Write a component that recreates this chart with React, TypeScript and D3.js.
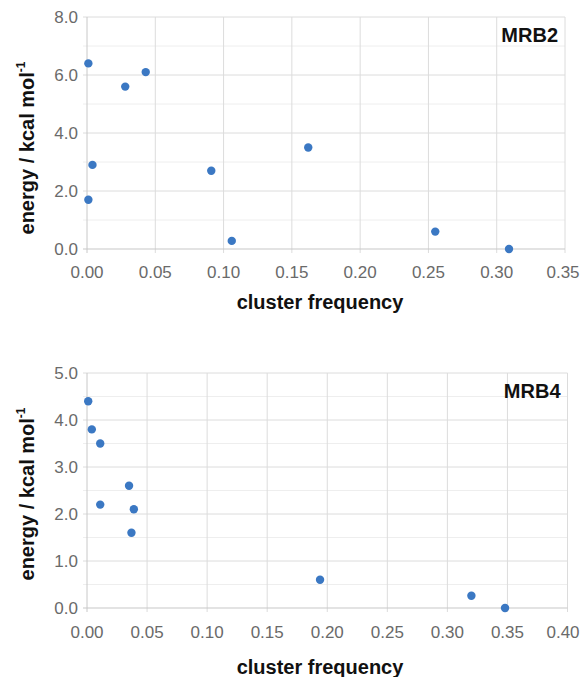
import React, { useEffect, useRef } from 'react';
import * as d3 from 'd3';

// MRB2 clusters
const mrb2Freq = [0.001, 0.028, 0.043, 0.004, 0.001, 0.091, 0.106, 0.162, 0.255, 0.309];
const mrb2Energy = [6.4, 5.6, 6.1, 2.9, 1.7, 2.7, 0.28, 3.5, 0.6, 0.0];
const mrb2XTicks = [0, 0.05, 0.1, 0.15, 0.2, 0.25, 0.3, 0.35];
const mrb2YTicks = [0, 2, 4, 6, 8];
const mrb2YMinor = [1, 3, 5, 7];

// MRB4 clusters
const mrb4Freq = [0.001, 0.004, 0.011, 0.035, 0.011, 0.039, 0.037, 0.194, 0.320, 0.348];
const mrb4Energy = [4.4, 3.8, 3.5, 2.6, 2.2, 2.1, 1.6, 0.6, 0.26, 0.0];
const mrb4XTicks = [0, 0.05, 0.1, 0.15, 0.2, 0.25, 0.3, 0.35, 0.4];
const mrb4YTicks = [0, 1, 2, 3, 4, 5];
const mrb4YMinor = [0.5, 1.5, 2.5, 3.5, 4.5];

const FONT = '"Liberation Sans", Arial, sans-serif';
const DOT = '#3b78c3';
const WIDTH = 581;

const drawPanel = (svg, opts) => {
  const { freq, energy, xTicks, yTicks, yMinor, label, left, right, top, bottom, xTitleY, xTickY, yTitleY } = opts;
  const g = svg.append('g');

  const x = d3.scaleLinear()
    .domain([xTicks[0], xTicks[xTicks.length - 1]])
    .range([left, right]);
  const y = d3.scaleLinear()
    .domain([yTicks[0], yTicks[yTicks.length - 1]])
    .range([bottom, top]);

  // minor grid
  g.selectAll('.minor')
    .data(yMinor)
    .enter()
    .append('line')
    .attr('x1', left - 4).attr('x2', right)
    .attr('y1', d => y(d)).attr('y2', d => y(d))
    .attr('stroke', '#eeeeee').attr('stroke-width', 1);

  // major grid
  g.selectAll('.hgrid')
    .data(yTicks.slice(1))
    .enter()
    .append('line')
    .attr('x1', left - 4).attr('x2', right)
    .attr('y1', d => y(d)).attr('y2', d => y(d))
    .attr('stroke', '#dcdcdc').attr('stroke-width', 1);

  g.selectAll('.vgrid')
    .data(xTicks)
    .enter()
    .append('line')
    .attr('x1', d => x(d)).attr('x2', d => x(d))
    .attr('y1', top).attr('y2', bottom + 4)
    .attr('stroke', d => (d === 0 ? '#c8c8c8' : '#dcdcdc')).attr('stroke-width', 1);

  // x axis line
  g.append('line')
    .attr('x1', left - 4).attr('x2', right)
    .attr('y1', bottom).attr('y2', bottom)
    .attr('stroke', '#c8c8c8').attr('stroke-width', 1.2);

  // tick labels
  g.selectAll('.ylab')
    .data(yTicks)
    .enter()
    .append('text')
    .attr('x', left - 9)
    .attr('y', d => y(d))
    .attr('dy', '0.36em')
    .attr('text-anchor', 'end')
    .style('font-family', FONT)
    .style('font-size', '17px')
    .attr('fill', '#6a6a6a')
    .text(d => d3.format('.1f')(d));

  // keep the last label inside the page edge
  g.selectAll('.xlab')
    .data(xTicks)
    .enter()
    .append('text')
    .attr('x', d => Math.min(x(d), WIDTH - 18))
    .attr('y', xTickY)
    .attr('text-anchor', 'middle')
    .style('font-family', FONT)
    .style('font-size', '17px')
    .attr('fill', '#6a6a6a')
    .text(d => d3.format('.2f')(d));

  // points
  g.selectAll('.dot')
    .data(freq.map((f, i) => ({ f, e: energy[i] })))
    .enter()
    .append('circle')
    .attr('cx', d => x(d.f))
    .attr('cy', d => y(d.e))
    .attr('r', 4.2)
    .attr('fill', DOT);

  // panel label
  g.append('text')
    .attr('x', right - 7)
    .attr('y', top + 25)
    .attr('text-anchor', 'end')
    .style('font-family', FONT)
    .style('font-size', '20px')
    .style('font-weight', 'bold')
    .attr('fill', '#111')
    .text(label);

  // axis titles
  g.append('text')
    .attr('x', 320)
    .attr('y', xTitleY)
    .attr('text-anchor', 'middle')
    .style('font-family', FONT)
    .style('font-size', '20px')
    .style('font-weight', 'bold')
    .attr('fill', '#111')
    .text('cluster frequency');

  const yt = g.append('text')
    .attr('transform', `translate(34,${yTitleY}) rotate(-90)`)
    .attr('text-anchor', 'middle')
    .style('font-family', FONT)
    .style('font-size', '20px')
    .style('font-weight', 'bold')
    .attr('fill', '#111');
  yt.append('tspan').text('energy / kcal mol');
  yt.append('tspan').attr('dy', -9).style('font-size', '12px').text('-1');
};

const App = () => {
  const ref = useRef();

  useEffect(() => {
    if (!ref.current) return;
    const svg = d3.select(ref.current);
    svg.selectAll('*').remove();

    drawPanel(svg, {
      freq: mrb2Freq, energy: mrb2Energy, xTicks: mrb2XTicks, yTicks: mrb2YTicks, yMinor: mrb2YMinor,
      label: 'MRB2', left: 87, right: 565, top: 17, bottom: 249,
      xTickY: 278, xTitleY: 309, yTitleY: 148,
    });

    drawPanel(svg, {
      freq: mrb4Freq, energy: mrb4Energy, xTicks: mrb4XTicks, yTicks: mrb4YTicks, yMinor: mrb4YMinor,
      label: 'MRB4', left: 87, right: 567.5, top: 373, bottom: 608,
      xTickY: 638, xTitleY: 674, yTitleY: 494,
    });
  }, []);

  return (
    <svg
      ref={ref}
      width={WIDTH}
      height={677}
      style={{ position: 'absolute', left: 0, top: 0, background: '#fff' }}
    />
  );
};

export default App;
